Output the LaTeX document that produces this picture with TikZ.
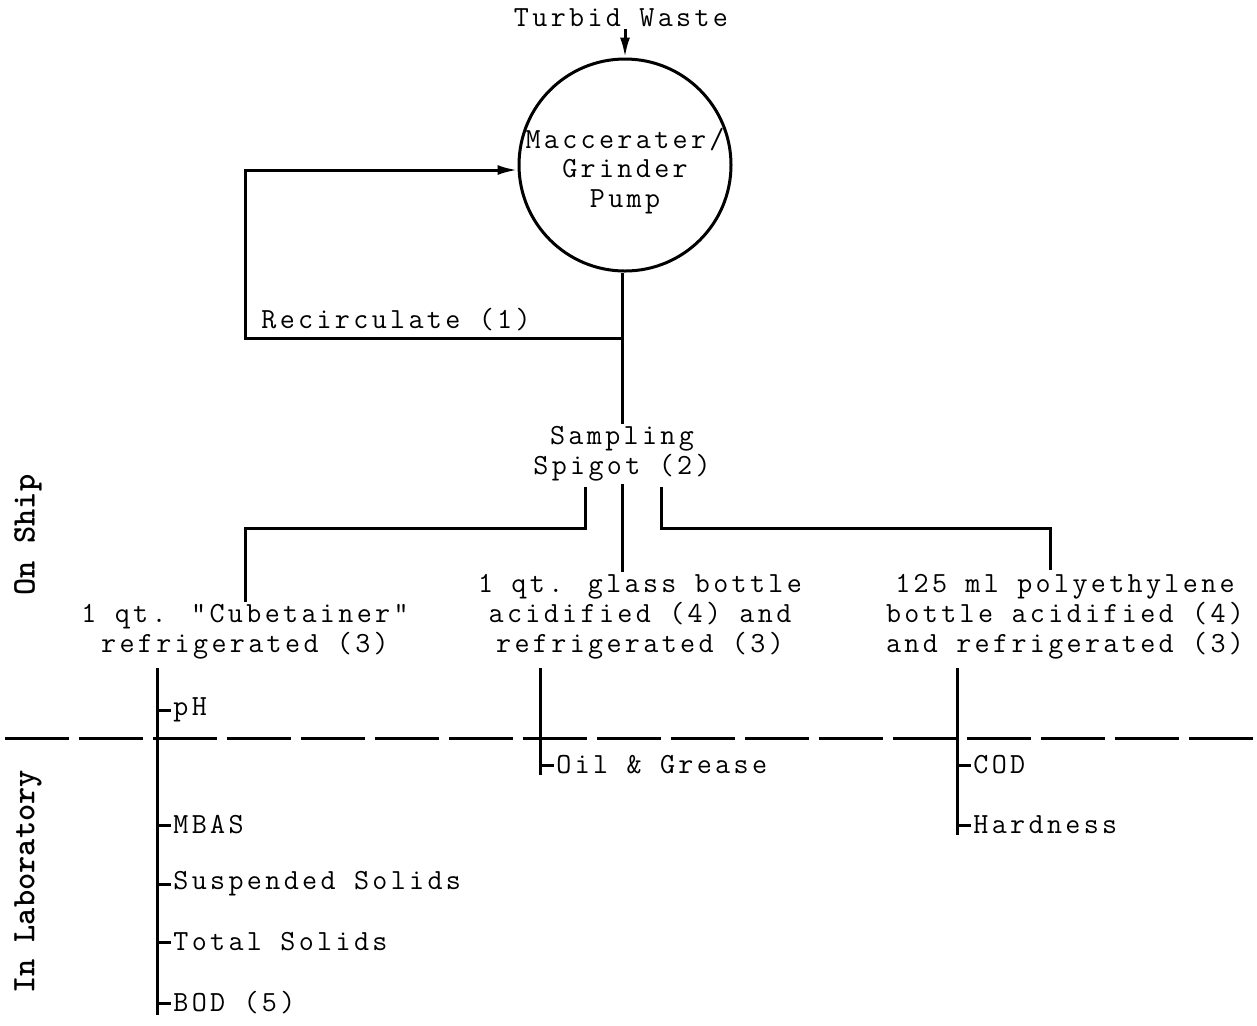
\documentclass[tikz,border=0pt]{standalone}
\usepackage{fontspec}
\newfontfamily\typewriter{Latin Modern Mono}[LetterSpace=11.5]
\usetikzlibrary{arrows.meta}
\newcommand{\typefont}{\typewriter\fontsize{14.6}{14.9}\selectfont}
\newcommand{\sidefont}{\ttfamily\bfseries\fontsize{16.4}{16.4}\selectfont}
\tikzset{
  lbl/.style={font=\typefont, inner sep=1pt},
  side/.style={font=\sidefont, rotate=90, inner sep=1pt},
  pipe/.style={line width=1.5pt},
  flow/.style={pipe, -{Latex[length=10pt,width=5pt]}},
  pumpcirc/.style={circle, draw, line width=1.5pt, minimum size=106pt, inner sep=0pt},
}
\begin{document}
\begin{tikzpicture}[x=0.5pt, y=-0.5pt]
    \useasboundingbox (0,0) rectangle (1257,1025);

    % Pumpe
    \node[lbl] (waste) at (621,18) {Turbid Waste};
    \node[pumpcirc] (pump) at (625,165) {};
    \node[lbl, align=center] (pumptxt) at (625,171) {Maccerater/\\Grinder\\Pump};
    \draw[flow] (pump.north |- waste.south) -- (pump.north);

    % Rueckfuehrung
    \node[lbl] (recirc) at (396,320) {Recirculate (1)};
    \coordinate (junc) at (622,338);
    \coordinate (loopbl) at (245,338);
    \coordinate (looptl) at (245,170);
    \node[lbl, align=center] (spigot) at (622,454) {Sampling\\Spigot (2)};
    \draw[pipe] (pump.south -| junc) -- (junc |- spigot.north);
    \draw[flow] (junc) -- (loopbl) -- (looptl) -- (looptl -| pump.west);

    % Probenbehaelter
    \node[lbl, align=center] (cube) at (245,632) {1 qt. "Cubetainer"\\refrigerated (3)};
    \node[lbl, align=center] (glass) at (640,617) {1 qt. glass bottle\\acidified (4) and\\refrigerated (3)};
    \node[lbl, align=center] (poly) at (1065,617) {125 ml polyethylene\\bottle acidified (4)\\and refrigerated (3)};
    \coordinate (spl) at (585,487);
    \coordinate (spr) at (661,487);
    \draw[pipe] (spl) -- ++(0,41) -| (cube.north);
    \draw[pipe] (spr) -- ++(0,41) -| (1050,570);
    \draw[pipe] (spigot.south -| junc) -- (junc |- glass.north);

    % Grenze Schiff / Labor
    \draw[pipe, dash pattern=on 32pt off 5pt] (5,738) -- (1257,738);
    \node[side] (ship) at (28,535) {On Ship};
    \node[side] (lab) at (28,882) {In Laboratory};

    % Analysen
    \coordinate (cubestem) at (157,668);
    \coordinate (glassstem) at (540,668);
    \coordinate (polystem) at (957,668);
    \node[lbl, anchor=west] (ph) at (171,710) {pH};
    \node[lbl, anchor=west] (mbas) at (171,825) {MBAS};
    \node[lbl, anchor=west] (ss) at (171,884) {Suspended Solids};
    \node[lbl, anchor=west] (ts) at (171,942) {Total Solids};
    \node[lbl, anchor=west] (bod) at (171,1003) {BOD (5)};
    \node[lbl, anchor=west] (oil) at (554,765) {Oil \& Grease};
    \node[lbl, anchor=west] (cod) at (971,765) {COD};
    \node[lbl, anchor=west] (hard) at (971,825) {Hardness};
    \draw[pipe] (cubestem) -- (157,1015);
    \draw[pipe] (glassstem) -- (540,775);
    \draw[pipe] (polystem) -- (957,835);
    \draw[pipe] (ph.west -| cubestem) -- (ph.west);
    \draw[pipe] (mbas.west -| cubestem) -- (mbas.west);
    \draw[pipe] (ss.west -| cubestem) -- (ss.west);
    \draw[pipe] (ts.west -| cubestem) -- (ts.west);
    \draw[pipe] (bod.west -| cubestem) -- (bod.west);
    \draw[pipe] (oil.west -| glassstem) -- (oil.west);
    \draw[pipe] (cod.west -| polystem) -- (cod.west);
    \draw[pipe] (hard.west -| polystem) -- (hard.west);
\end{tikzpicture}
\end{document}
